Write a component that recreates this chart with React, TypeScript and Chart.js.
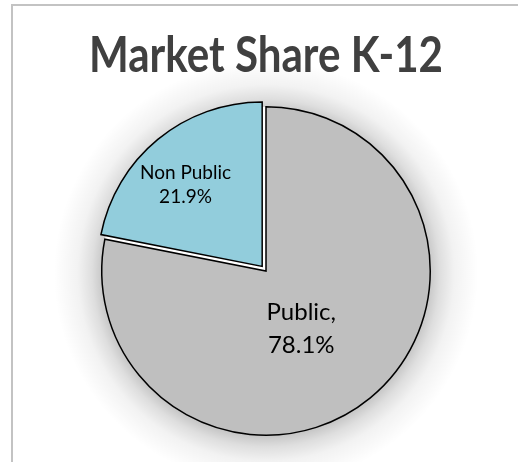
import React, { useEffect, useRef } from "react";
import { Chart, registerables } from "chart.js";

Chart.register(...registerables);

// ---- data ----
const categories = ["Public", "Non Public"];
const shares = [78.1, 21.9];
const labelLines = [
  ["Public,", "78.1%"],
  ["Non Public", "21.9%"],
];
const titleText = "Market Share K-12";

// ---- styles ----
const sliceColors = ["#BFBFBF", "#92CDDC"];
const sliceOffsets = [0, 24]; // Chart.js draws offset / 4 px
const labelFontSizes = [24, 19];
const labelLineGaps = [33, 24];
const labelRadiusFrac = [0.41, 0.68];
const labelAngleFrac = [0.528, 0.45];
const FONT = "Lato, 'Open Sans', 'DejaVu Sans', sans-serif";

const framePlugin = {
  id: "frame",
  beforeDraw(chart: any) {
    const ctx = chart.ctx;
    ctx.save();
    ctx.fillStyle = "#ffffff";
    ctx.fillRect(0, 0, chart.width, chart.height);
    ctx.fillStyle = "#c3c3c3";
    ctx.fillRect(11, 4, 2, chart.height);
    ctx.fillRect(11, 4, chart.width, 2);
    ctx.restore();
  },
};

const shadowPlugin = {
  id: "pieShadow",
  beforeDatasetsDraw(chart: any) {
    const meta = chart.getDatasetMeta(0);
    const arc = meta.data[0];
    if (!arc) return;
    const { x, y, outerRadius } = arc.getProps(["x", "y", "outerRadius"], true);
    const ctx = chart.ctx;
    const cy = y + 2;
    const R = outerRadius + 48;
    const g = ctx.createRadialGradient(x, cy, 0, x, cy, R);
    const s = outerRadius / R;
    g.addColorStop(0, "rgba(0,0,0,0.25)");
    g.addColorStop(s - 0.02, "rgba(0,0,0,0.25)");
    g.addColorStop(s + (1 - s) * 0.2, "rgba(0,0,0,0.13)");
    g.addColorStop(s + (1 - s) * 0.5, "rgba(0,0,0,0.05)");
    g.addColorStop(1, "rgba(0,0,0,0)");
    ctx.save();
    ctx.fillStyle = g;
    ctx.beginPath();
    ctx.arc(x, cy, R, 0, Math.PI * 2);
    ctx.fill();
    ctx.fillStyle = "#ffffff";
    ctx.beginPath();
    ctx.arc(x, y, outerRadius, 0, Math.PI * 2);
    ctx.fill();
    ctx.restore();
  },
};

const labelPlugin = {
  id: "sliceLabels",
  afterDatasetsDraw(chart: any) {
    const meta = chart.getDatasetMeta(0);
    const ctx = chart.ctx;
    meta.data.forEach((arc: any, i: number) => {
      const { x, y, startAngle, endAngle, outerRadius } = arc.getProps(
        ["x", "y", "startAngle", "endAngle", "outerRadius"],
        true
      );
      const mid = (startAngle + endAngle) / 2;
      const off = (sliceOffsets[i] || 0) / 4;
      const ox = x + Math.cos(mid) * off;
      const oy = y + Math.sin(mid) * off;
      const ang = startAngle + (endAngle - startAngle) * labelAngleFrac[i];
      const r = outerRadius * labelRadiusFrac[i];
      const cx = ox + Math.cos(ang) * r;
      const cy = oy + Math.sin(ang) * r;
      const lines = labelLines[i];
      const gap = labelLineGaps[i];
      ctx.save();
      ctx.fillStyle = "#000000";
      ctx.font = `${labelFontSizes[i]}px ${FONT}`;
      ctx.textAlign = "center";
      ctx.textBaseline = "middle";
      const top = cy - ((lines.length - 1) * gap) / 2;
      lines.forEach((t, k) => ctx.fillText(t, cx, top + k * gap));
      ctx.restore();
    });
  },
};

export default function App() {
  const ref = useRef<HTMLCanvasElement>(null);
  useEffect(() => {
    if (!ref.current) return;
    const chart = new Chart(ref.current, {
      type: "pie",
      data: {
        labels: categories,
        datasets: [
          {
            data: shares,
            backgroundColor: sliceColors,
            borderColor: "#000000",
            borderWidth: 1.5,
            offset: sliceOffsets,
            borderJoinStyle: "miter",
          } as any,
        ],
      },
      options: {
        responsive: false,
        animation: false,
        layout: { padding: { top: 0, left: 89, right: 75, bottom: 14 } },
        plugins: {
          legend: { display: false },
          tooltip: { enabled: false },
          title: {
            display: true,
            text: titleText,
            color: "#404040",
            font: { family: FONT, size: 50, weight: "bold", lineHeight: 1.2 },
            padding: { top: 26, bottom: 8 },
          },
        },
      },
      plugins: [framePlugin, shadowPlugin, labelPlugin],
    });
    return () => chart.destroy();
  }, []);
  return (
    <div style={{ position: "absolute", left: 0, top: 0, width: 518, height: 462, overflow: "hidden" }}>
      <canvas ref={ref} width={518} height={462} style={{ display: "block" }} />
    </div>
  );
}
